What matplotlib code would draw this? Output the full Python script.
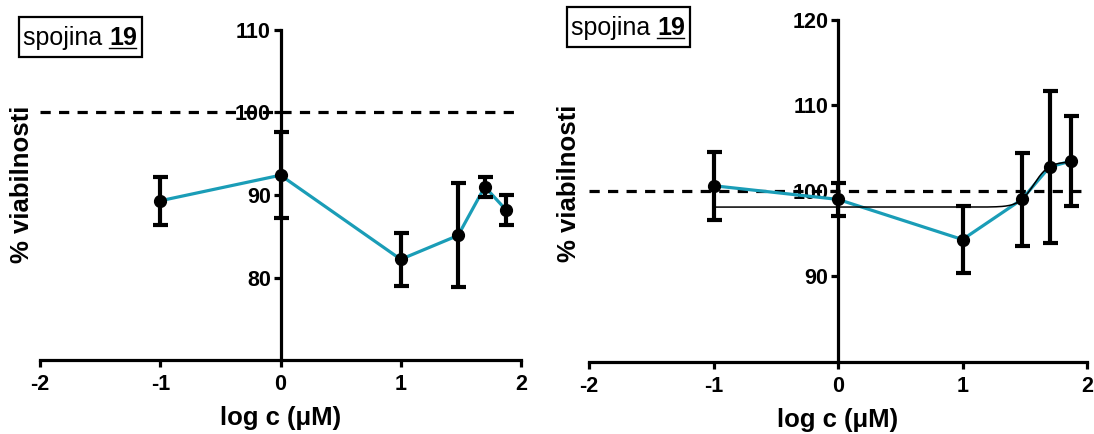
import numpy as np
import matplotlib
matplotlib.use("Agg")
import matplotlib.pyplot as plt
from matplotlib.lines import Line2D
from matplotlib.patches import Rectangle

plt.rcParams['font.family'] = ['Liberation Sans', 'DejaVu Sans']

# log concentration (uM): 0.1, 1, 10, 30, 50, 75 uM
log_c = [-1.0, 0.0, 1.0, 1.477, 1.699, 1.875]

# viability (%) with error (SD), two experiments
viab_a = [89.3, 92.4, 82.2, 85.1, 91.0, 88.2]
err_a = [2.9, 5.2, 3.25, 6.3, 1.2, 1.85]

viab_b = [100.6, 99.0, 94.3, 99.0, 102.8, 103.5]
err_b = [4.0, 1.9, 3.9, 5.4, 8.9, 5.3]

# sigmoidal dose-response fit for the second experiment
fit_bottom = 98.1
fit_top = 103.4
fit_logec50 = 1.573
fit_hill = 7.2

x_ticks = [-2, -1, 0, 1, 2]
y_ticks_a = [80, 90, 100, 110]
y_ticks_b = [90, 100, 110, 120]

compound = "19"
y_title = "% viabilnosti"
x_title = "log c (\u03bcM)"
teal = "#1a9db7"

W, H = 1094, 434
fig = plt.figure(figsize=(W / 100, H / 100), dpi=100)


def make_axes(rect, ylim, yticks):
    ax = fig.add_axes(rect)
    ax.set_xlim(-2, 2)
    ax.set_ylim(*ylim)
    for s in ("top", "right"):
        ax.spines[s].set_visible(False)
    ax.spines["left"].set_position(("data", 0))
    ax.spines["left"].set_linewidth(2.3)
    ax.spines["bottom"].set_linewidth(2.3)
    ax.spines["left"].set_capstyle("projecting")
    ax.spines["bottom"].set_capstyle("projecting")
    ax.set_xticks(x_ticks)
    ax.set_xticklabels([str(t) for t in x_ticks])
    ax.set_yticks(yticks)
    ax.tick_params(axis="both", direction="out", length=5, width=2.3,
                   labelsize=15.5)
    ax.tick_params(axis="x", pad=5)
    ax.tick_params(axis="y", pad=2)
    for lab in ax.get_xticklabels() + ax.get_yticklabels():
        lab.set_fontweight("bold")
    ax.patch.set_visible(False)
    ax.axhline(100, color="black", lw=2.3, ls=(0, (3.2, 2.6)), zorder=1,
               clip_on=False)
    ax.set_xlabel(x_title, fontsize=18.5, fontweight="bold", labelpad=8)
    return ax


def draw_series(ax, y, e):
    ax.plot(log_c, y, color=teal, lw=2.3, zorder=4)
    ax.errorbar(log_c, y, yerr=e, fmt="o", color="black", ms=8.5,
                elinewidth=3, capsize=5.4, capthick=3, zorder=5, clip_on=False)


def compound_box(x0_px, base_px):
    y0 = (H - base_px) / H
    t1 = fig.text(x0_px / W, y0, "spojina ", fontsize=18, va="baseline",
                  ha="left")
    t2 = fig.text(0, 0, compound, fontsize=18, fontweight="bold",
                  va="baseline", ha="left")
    fig.canvas.draw()
    r = fig.canvas.get_renderer()
    b1 = t1.get_window_extent(r)
    t2.set_position((b1.x1 / W, y0))
    fig.canvas.draw()
    b2 = t2.get_window_extent(r)
    base = y0 * H
    uy = base - 2.5
    fig.add_artist(Line2D([b2.x0 / W, (b2.x1 - 1) / W], [uy / H, uy / H],
                          color="black", lw=1.0))
    pad_l, pad_r = 4, 5
    top = base + 28
    bot = base - 11.5
    fig.add_artist(Rectangle((b1.x0 / W - pad_l / W, bot / H),
                             (b2.x1 - b1.x0 + pad_l + pad_r) / W,
                             (top - bot) / H, fill=False, lw=1.6,
                             edgecolor="black"))


# left panel
ax1 = make_axes([40 / W, (H - 360) / H, 481 / W, 330 / H], (70, 110), y_ticks_a)
draw_series(ax1, viab_a, err_a)
fig.text(22 / W, (H - 184) / H, y_title, fontsize=18.5, fontweight="bold",
         rotation=90, ha="center", va="center")

# right panel
ax2 = make_axes([589 / W, (H - 361.7) / H, 498 / W, 341.7 / H], (80, 120), y_ticks_b)
xf = np.linspace(log_c[0], log_c[-1], 300)
yf = fit_bottom + (fit_top - fit_bottom) / (1 + 10 ** ((fit_logec50 - xf) * fit_hill))
ax2.plot(xf, yf, color="black", lw=1.1, zorder=4.5)
draw_series(ax2, viab_b, err_b)
fig.text(569 / W, (H - 183) / H, y_title, fontsize=18.5, fontweight="bold",
         rotation=90, ha="center", va="center")

compound_box(23, 45)
compound_box(571, 35)

fig.savefig("out.png", dpi=100)
